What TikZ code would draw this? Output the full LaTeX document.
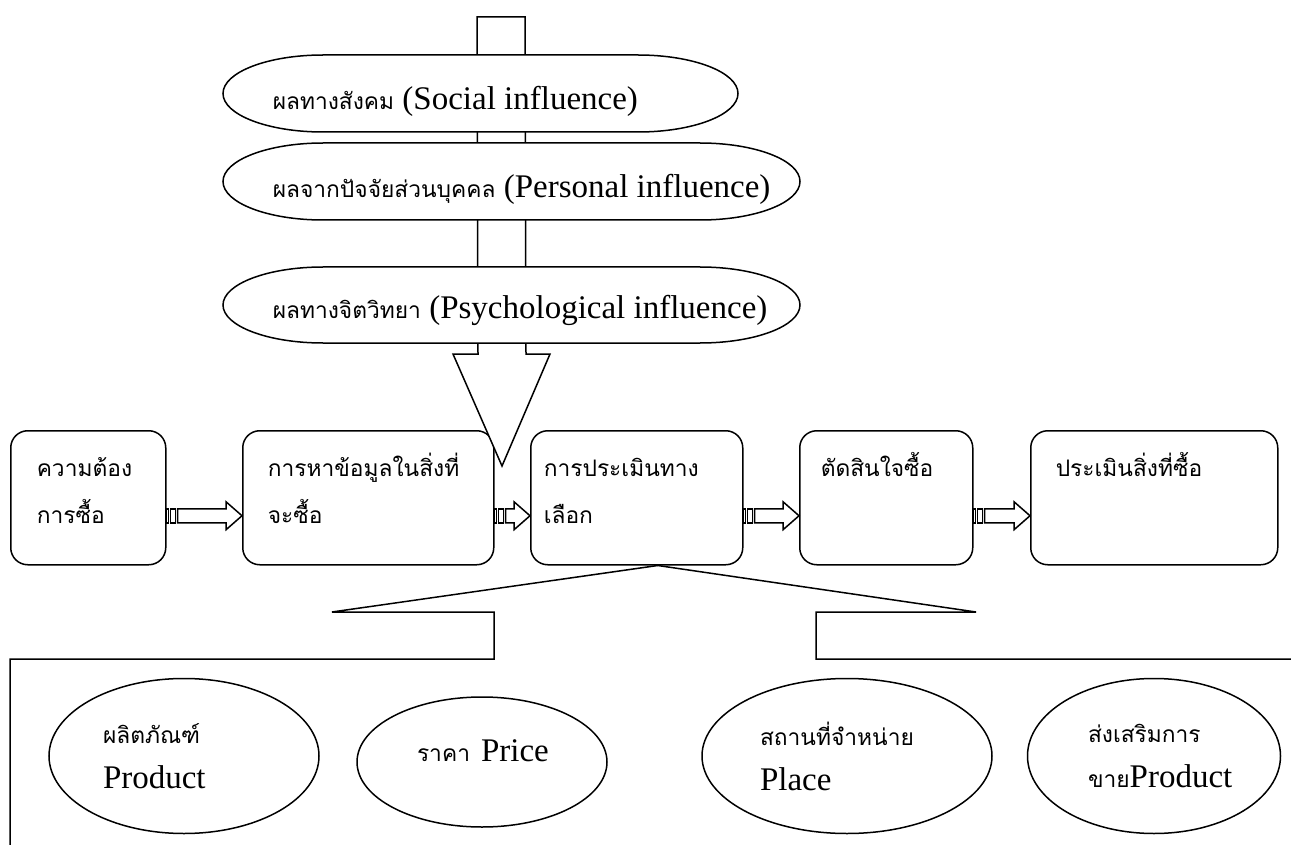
\documentclass[tikz,border=0pt]{standalone}
\usepackage{fontspec}
\setmainfont{Liberation Serif}
\newfontfamily\thaifont[Script=Thai,Scale=0.69]{Loma}
\usepackage{tikz}
\usetikzlibrary{shapes.geometric,calc}

\newcommand{\thai}[1]{{\thaifont #1}}
% flat ellipse: left, top, right, half height
\newcommand{\capsule}[4]{%
  \draw[fill=white] (#1+100,#2) -- (#3-100,#2)
    arc[start angle=90,end angle=-90,x radius=100pt,y radius=#4pt]
    -- (#1+100,#2+2*#4)
    arc[start angle=270,end angle=90,x radius=100pt,y radius=#4pt] -- cycle;}
% striped block arrow from box to box
\newcommand{\stripedarrow}[2]{%
  \draw ($(#1.east)+(0,11)$) rectangle ++(2,14);
  \draw ($(#1.east)+(4,11)$) rectangle ++(5,14);
  \draw[fill=white] ($(#1.east)+(11,11)$) -- ($(#2.west)+(-16,11)$)
    -- ($(#2.west)+(-16,4)$) -- ($(#2.west)+(0,18)$) -- ($(#2.west)+(-16,32)$)
    -- ($(#2.west)+(-16,25)$) -- ($(#1.east)+(11,25)$) -- cycle;}

\tikzset{
  stage/.style={draw, rounded corners=17pt, anchor=north west, inner sep=0pt,
    minimum height=134pt, align=left, text height=22pt, text depth=64pt,
    font=\fontsize{33}{47}\selectfont},
  mix/.style={ellipse, draw, inner sep=0pt, align=left,
    font=\fontsize{33}{45}\selectfont},
  factor/.style={anchor=base west, inner sep=0pt, font=\fontsize{33}{40}\selectfont}
}

\begin{document}
\begin{tikzpicture}[x=1pt,y=-1pt,line width=1.5pt]
  \useasboundingbox (0,0) rectangle (1291,845);

  % buying steps
  \node[stage, minimum width=155pt, text width=103pt] (need) at (10,430)
    {\thai{ความต้อง}\\\thai{การซื้อ}};
  \node[stage, minimum width=251pt, text width=201pt] (search) at (242,430)
    {\thai{การหาข้อมูลในสิ่งที่}\\\thai{จะซื้อ}};
  \node[stage, minimum width=212pt, text width=186pt] (eval) at (530,430)
    {\thai{การประเมินทาง}\\\thai{เลือก}};
  \node[stage, minimum width=173pt, text width=131pt] (decide) at (799,430)
    {\thai{ตัดสินใจซื้อ}};
  \node[stage, minimum width=247pt, text width=197pt] (post) at (1030,430)
    {\thai{ประเมินสิ่งที่ซื้อ}};
  \foreach \a/\b in {need/search, search/eval, eval/decide, decide/post}{
    \stripedarrow{\a}{\b}
  }

  % big arrow of influences
  \coordinate (top) at (501,17);
  \coordinate (tip) at (502,466);
  \draw[fill=white] ($(top)+(-24,0)$) -- ($(top)+(24,0)$) -- ($(tip)+(24,-112)$)
    -- ($(tip)+(48,-112)$) -- (tip) -- ($(tip)+(-49,-112)$)
    -- ($(tip)+(-24,-112)$) -- cycle;
  \capsule{223}{55}{738}{38.5}
  \capsule{223}{143}{800}{38.5}
  \capsule{223}{267}{800}{38}
  \node[factor] (soc) at (272,110) {\thai{ผลทางสังคม} (Social influence)};
  \node[factor] (per) at (272,198) {\thai{ผลจากปัจจัยส่วนบุคคล} (Personal influence)};
  \node[factor] (psy) at (272,318) {\thai{ผลทางจิตวิทยา} (Psychological influence)};

  % marketing mix frames
  \coordinate (split) at ($(eval.south)+(21,0)$);
  \draw (split) -- (332,612) -- (494,612) -- (494,659) -- (10,659) -- (10,845);
  \draw (split) -- (976,612) -- (816,612) -- (816,659) -- (1291,659);
  \node[mix, minimum width=270pt, minimum height=155pt, text width=162pt] (prod)
    at (184,756) {\thai{ผลิตภัณฑ์}\\Product};
  \node[mix, minimum width=250pt, minimum height=130pt, text width=130pt,
    text depth=22pt] (price) at (482,762) {\mbox{\thai{ราคา} Price}};
  \node[mix, minimum width=290pt, minimum height=155pt, text width=174pt] (place)
    at (847,756) {\thai{สถานที่จำหน่าย}\\Place};
  \node[mix, minimum width=253pt, minimum height=155pt, text width=132pt] (promo)
    at (1154,756) {\thai{ส่งเสริมการ}\\\thai{ขาย}Product};
\end{tikzpicture}
\end{document}
